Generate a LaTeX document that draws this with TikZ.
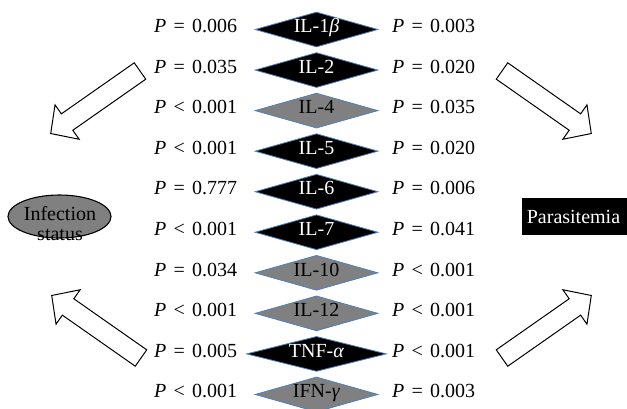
\documentclass[tikz,border=0pt]{standalone}
\usepackage{fontspec}
\setmainfont{Liberation Serif}
\usetikzlibrary{shapes.geometric}
\definecolor{cytogray}{HTML}{808080}
\definecolor{cytoedge}{HTML}{4F81BD}
% P-value label: italic P, relation, value
\newcommand{\pval}[2]{\textit{P}\hspace{0.36em}#1\hspace{0.36em}#2}
\tikzset{
  txt/.style={font=\fontsize{20bp}{24bp}\selectfont, inner sep=0pt,
              text height=0.66em, text depth=0pt},
  cyto/.style={diamond, draw=cytoedge, line width=0.8bp, fill=#1,
               inner sep=0pt, minimum height=35bp},
  blockarrow/.style={draw=black, line width=1bp, fill=white, line join=miter},
  outcome/.style={ellipse, draw=black, line width=1.1bp, fill=cytogray,
                  inner sep=0pt, minimum width=103bp, minimum height=43bp},
  outbox/.style={fill=black, inner sep=0pt, minimum width=106bp,
                 minimum height=37bp, anchor=north west},
}
\begin{document}
\begin{tikzpicture}[x=1bp,y=-1bp]
\useasboundingbox (0,0) rectangle (627,408);
\clip (0,0) rectangle (627,408);

% cytokine column with p-values for infection status (left) and parasitemia (right)
\foreach \i/\cname/\fc/\tc/\w/\lr/\lv/\rr/\rv in {
  0/IL-1\textit{β}/black/white/123/=/0.006/=/0.003,
  1/IL-2/black/white/123/=/0.035/=/0.020,
  2/IL-4/cytogray/black/123/</0.001/=/0.035,
  3/IL-5/black/white/123/</0.001/=/0.020,
  4/IL-6/black/white/123/=/0.777/=/0.006,
  5/IL-7/black/white/123/</0.001/=/0.041,
  6/IL-10/cytogray/black/123/=/0.034/</0.001,
  7/IL-12/cytogray/black/123/</0.001/</0.001,
  8/TNF-\textit{α}/black/white/140/=/0.005/</0.001,
  9/IFN-\textit{γ}/cytogray/black/123/</0.001/=/0.003}
{
  \pgfmathsetmacro{\yy}{29.5+40.55*\i}
  \node[cyto=\fc, minimum width=\w bp] (d\i) at (316.5,\yy) {};
  \node[txt, text=\tc] (c\i) at (d\i.center) {\cname};
  \node[txt, anchor=west] (l\i) at (154,\yy) {\pval{\lr}{\lv}};
  \node[txt, anchor=west] (r\i) at (392,\yy) {\pval{\rr}{\rv}};
}

% outcomes
\node[outcome] (inf) at (59.5,216.5) {};
\node[font=\fontsize{20bp}{20bp}\selectfont, align=center, inner sep=0pt,
      anchor=north] (inft) at (60,206) {Infection\\status};
\node[outbox] (par) at (522,198) {};
\node[txt, text=white, anchor=base] (part) at (573.5,223) {Parasitemia};

% hollow block arrows pointing to the outcomes
\foreach \x/\y/\a in {140/71/215, 502/71/-35, 141/358/145, 502/358/35}
  \draw[blockarrow, shift={(\x,\y)}, rotate=\a]
    (0,-10) -- (89,-10) -- (89,-21) -- (109,0) -- (89,21) -- (89,10) -- (0,10) -- cycle;
\end{tikzpicture}
\end{document}
